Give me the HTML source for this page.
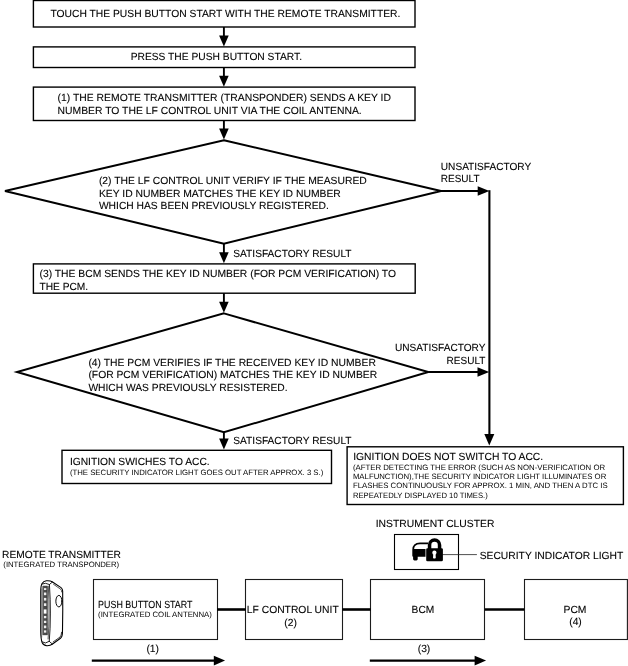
<!DOCTYPE html>
<html><head><meta charset="utf-8"><title>Flow</title>
<style>html,body{margin:0;padding:0;background:#fff}svg{display:block;filter:grayscale(1);will-change:transform}text{font-family:"Liberation Sans",sans-serif;fill:#000;stroke:#000;stroke-width:0.1px;text-rendering:geometricPrecision}text.s{stroke:none}</style></head>
<body>
<svg width="628" height="666" viewBox="0 0 628 666">
<rect width="628" height="666" fill="#fff"/>
<rect x="33.4" y="0.5" width="381.6" height="26.5" fill="none" stroke="#000" stroke-width="1.4"/>
<rect x="33.4" y="46.9" width="381.6" height="20.6" fill="none" stroke="#000" stroke-width="1.4"/>
<rect x="33.4" y="87.1" width="381.6" height="33.4" fill="none" stroke="#000" stroke-width="1.4"/>
<rect x="33.4" y="263.9" width="381.8" height="29.3" fill="none" stroke="#000" stroke-width="1.4"/>
<rect x="62" y="450.3" width="269.5" height="33.2" fill="none" stroke="#000" stroke-width="1.4"/>
<rect x="347.1" y="446.8" width="276.3" height="57.7" fill="none" stroke="#000" stroke-width="1.4"/>
<rect x="394.5" y="534.5" width="64.0" height="35.0" fill="none" stroke="#000" stroke-width="1.1"/>
<rect x="93.5" y="579.5" width="124.0" height="60.0" fill="none" stroke="#1c1c1c" stroke-width="1.1"/>
<rect x="245.5" y="579.5" width="97.0" height="60.0" fill="none" stroke="#1c1c1c" stroke-width="1.1"/>
<rect x="370.5" y="579.5" width="114.0" height="60.0" fill="none" stroke="#1c1c1c" stroke-width="1.1"/>
<rect x="524.5" y="579.5" width="102.9" height="60.0" fill="none" stroke="#1c1c1c" stroke-width="1.1"/>
<polygon points="223.9,140.2 441,191 223.9,243.6 5,191" fill="none" stroke="#000" stroke-width="2" stroke-linejoin="miter"/>
<polygon points="223.9,313.4 428.3,372 223.9,432.3 17,372" fill="none" stroke="#000" stroke-width="2" stroke-linejoin="miter"/>
<line x1="223.9" y1="27" x2="223.9" y2="40" stroke="#000" stroke-width="1.9"/>
<polygon points="219.10,35.50 228.70,35.50 223.9,46.50" fill="#000"/>
<line x1="223.9" y1="67.5" x2="223.9" y2="80" stroke="#000" stroke-width="1.9"/>
<polygon points="219.10,75.70 228.70,75.70 223.9,86.70" fill="#000"/>
<line x1="223.9" y1="120.5" x2="223.9" y2="130" stroke="#000" stroke-width="1.9"/>
<polygon points="219.10,128.60 228.70,128.60 223.9,139.60" fill="#000"/>
<line x1="223.9" y1="244" x2="223.9" y2="255" stroke="#000" stroke-width="1.9"/>
<polygon points="219.10,252.20 228.70,252.20 223.9,263.20" fill="#000"/>
<line x1="223.9" y1="293.2" x2="223.9" y2="303" stroke="#000" stroke-width="1.9"/>
<polygon points="219.10,301.80 228.70,301.80 223.9,312.80" fill="#000"/>
<line x1="223.9" y1="432.5" x2="223.9" y2="440" stroke="#000" stroke-width="1.9"/>
<polygon points="219.10,438.60 228.70,438.60 223.9,449.60" fill="#000"/>
<line x1="441" y1="191" x2="480" y2="191" stroke="#000" stroke-width="1.9"/>
<polygon points="477.7,186.25 477.7,195.75 489.4,191" fill="#000"/>
<line x1="489.4" y1="190.2" x2="489.4" y2="436" stroke="#000" stroke-width="2.1"/>
<polygon points="484.30,434.10 494.30,434.10 489.3,445.60" fill="#000"/>
<line x1="428.5" y1="372" x2="480" y2="372" stroke="#000" stroke-width="1.9"/>
<polygon points="477.5,367.25 477.5,376.75 489.2,372" fill="#000"/>
<line x1="217" y1="609.5" x2="245.8" y2="609.5" stroke="#000" stroke-width="2.6"/>
<line x1="342.3" y1="609.5" x2="370.8" y2="609.5" stroke="#000" stroke-width="2.6"/>
<line x1="484.8" y1="609.5" x2="524.3" y2="609.5" stroke="#000" stroke-width="2.6"/>
<line x1="91.8" y1="660.6" x2="215" y2="660.6" stroke="#000" stroke-width="2.2"/>
<polygon points="213.79999999999998,655.7 213.79999999999998,665.5 225.1,660.6" fill="#000"/>
<line x1="369.8" y1="660.6" x2="476" y2="660.6" stroke="#000" stroke-width="2.2"/>
<polygon points="474.6,655.7 474.6,665.5 486.1,660.6" fill="#000"/>
<line x1="441" y1="554.6" x2="476.9" y2="554.6" stroke="#222" stroke-width="0.8"/>

<g id="icon">
<path fill-rule="evenodd" fill="#000" d="M412.3,550 Q412.3,542.5 420,542.5 L428,542.5 L428,549 L425.5,549 L425.5,556.8 L417.7,556.8 L417.7,559.1 Q417.7,560.4 416.4,560.4 L414.4,560.4 Q413.1,560.4 413.1,559.1 L413.1,556.8 Q412.3,556.5 412.3,555.4 Z M414.1,548.9 Q414.4,544.3 420,544.3 L428,544.3 L428,548.9 Z"/>
<path d="M429.55,550 L429.55,545.1 A5.0,5.0 0 0 1 439.55,545.1 L439.55,550" fill="none" stroke="#000" stroke-width="3.5"/>
<rect x="426.2" y="548.3" width="16.7" height="12.9" rx="1.3" fill="#000"/>
<circle cx="434.4" cy="552.7" r="2.15" fill="#fff"/>
<path d="M433.3,553.5 L435.5,553.5 L435.8,557.5 Q435.8,558.4 434.9,558.4 L433.9,558.4 Q433,558.4 433,557.5 Z" fill="#fff"/>
</g>


<g id="remote" transform="translate(51.7 613.25) scale(0.945 0.96) translate(-51.7 -613.2)" fill="none" stroke="#000" stroke-width="0.9" stroke-linejoin="round" stroke-linecap="round">
<path d="M40.1,591 Q40.1,584.5 41.5,582.2 Q43,579.9 46,579.4 Q50,579 52.6,580.7 L61.6,586.5 Q63.3,587.8 63.3,590 L63.4,610 L63.1,633 Q63.1,637.5 61,639.3 L52.6,645.3 Q50,647.2 46.5,647 Q43,646.7 41.5,643.6 Q40.2,640 40.1,632 Z" fill="#fff" stroke-width="1.15"/>
<path d="M41.8,582.6 Q45,581 49.3,583.3 Q50.4,600 50.3,613 Q50.3,630 49.1,642.4 Q45,645.6 41.8,643.2"/>
<path d="M49.3,583.3 Q51,581.5 52.6,580.7"/>
<path d="M49.1,642.4 Q51,644.5 52.6,645.3"/>
<path d="M53.6,583 L61.2,588.2 Q62.2,589 62.3,591" stroke-width="0.7"/>
<path d="M53.2,643.1 L60.5,638 Q62,636.6 62.2,633" stroke-width="0.8"/>
<path d="M48.1,585 Q49,600 48.9,613 Q48.9,628 47.9,640" stroke-width="0.7"/>
<path d="M41.2,588 L41.2,638" stroke-width="0.4"/>
<rect x="42.6" y="585" width="4.5" height="50.6" fill="#4a4a4a" stroke="#111" stroke-width="0.6"/>
<ellipse cx="59.3" cy="600.6" rx="3.2" ry="6" stroke-width="1"/>
</g>
<g transform="translate(51.7 613.25) scale(0.945 0.96) translate(-51.7 -613.2)" fill="#eee" stroke="none">
<rect x="43.5" y="587" width="2.5" height="2"/>
<rect x="43.5" y="591.6" width="2.5" height="2.8"/>
<rect x="43.5" y="597.2" width="2.5" height="2.8"/>
<rect x="43.5" y="602.8" width="2.5" height="2.8"/>
<rect x="43.3" y="609.2" width="2.9" height="4.4" fill="#fff"/>
<rect x="43.5" y="616" width="2.5" height="2.4"/>
<rect x="43.5" y="621" width="2.5" height="2.4"/>
<rect x="43.5" y="626" width="2.5" height="2.8"/>
<rect x="43.5" y="631" width="2.5" height="2.4"/>
</g>

<text x="50.4" y="17.3" font-size="10.3" textLength="350.0" lengthAdjust="spacingAndGlyphs">TOUCH THE PUSH BUTTON START WITH THE REMOTE TRANSMITTER.</text>
<text x="130.7" y="60.4" font-size="10.3" textLength="171.3" lengthAdjust="spacingAndGlyphs">PRESS THE PUSH BUTTON START.</text>
<text x="57.6" y="100.9" font-size="10.3" textLength="333.4" lengthAdjust="spacingAndGlyphs">(1) THE REMOTE TRANSMITTER (TRANSPONDER) SENDS A KEY ID</text>
<text x="57.6" y="113.6" font-size="10.3" textLength="304.1" lengthAdjust="spacingAndGlyphs">NUMBER TO THE LF CONTROL UNIT VIA THE COIL ANTENNA.</text>
<text x="98.9" y="184.2" font-size="10.3" textLength="267.9" lengthAdjust="spacingAndGlyphs">(2) THE LF CONTROL UNIT VERIFY IF THE MEASURED</text>
<text x="98.9" y="196.7" font-size="10.3" textLength="241.9" lengthAdjust="spacingAndGlyphs">KEY ID NUMBER MATCHES THE KEY ID NUMBER</text>
<text x="98.9" y="209.2" font-size="10.3" textLength="229.9" lengthAdjust="spacingAndGlyphs">WHICH HAS BEEN PREVIOUSLY REGISTERED.</text>
<text x="440.8" y="170" font-size="10.3" textLength="90.4" lengthAdjust="spacingAndGlyphs">UNSATISFACTORY</text>
<text x="440.8" y="182.3" font-size="10.3" textLength="38.7" lengthAdjust="spacingAndGlyphs">RESULT</text>
<text x="233.3" y="257" font-size="10.3" textLength="118.2" lengthAdjust="spacingAndGlyphs">SATISFACTORY RESULT</text>
<text x="39.5" y="277.1" font-size="10.3" textLength="356.5" lengthAdjust="spacingAndGlyphs">(3) THE BCM SENDS THE KEY ID NUMBER (FOR PCM VERIFICATION) TO</text>
<text x="39.5" y="289.6" font-size="10.3" textLength="48.7" lengthAdjust="spacingAndGlyphs">THE PCM.</text>
<text x="88.4" y="365.7" font-size="10.3" textLength="287.5" lengthAdjust="spacingAndGlyphs">(4) THE PCM VERIFIES IF THE RECEIVED KEY ID NUMBER</text>
<text x="88.4" y="378.4" font-size="10.3" textLength="288.8" lengthAdjust="spacingAndGlyphs">(FOR PCM VERIFICATION) MATCHES THE KEY ID NUMBER</text>
<text x="88.4" y="390.6" font-size="10.3" textLength="199.2" lengthAdjust="spacingAndGlyphs">WHICH WAS PREVIOUSLY RESISTERED.</text>
<text x="395" y="351.1" font-size="10.3" textLength="90.4" lengthAdjust="spacingAndGlyphs">UNSATISFACTORY</text>
<text x="446.6" y="363.6" font-size="10.3" textLength="38.8" lengthAdjust="spacingAndGlyphs">RESULT</text>
<text x="233.3" y="443.7" font-size="10.3" textLength="118.2" lengthAdjust="spacingAndGlyphs">SATISFACTORY RESULT</text>
<text x="69.9" y="465.2" font-size="10.3" textLength="139.8" lengthAdjust="spacingAndGlyphs">IGNITION SWICHES TO ACC.</text>
<text x="69.9" y="474.6" font-size="7.78" class="s" textLength="253.4" lengthAdjust="spacingAndGlyphs">(THE SECURITY INDICATOR LIGHT GOES OUT AFTER APPROX. 3 S.)</text>
<text x="353.2" y="460.1" font-size="10.3" textLength="190.0" lengthAdjust="spacingAndGlyphs">IGNITION DOES NOT SWITCH TO ACC.</text>
<text x="352.9" y="469.7" font-size="7.78" class="s" textLength="252.2" lengthAdjust="spacingAndGlyphs">(AFTER DETECTING THE ERROR (SUCH AS NON-VERIFICATION OR</text>
<text x="352.9" y="478.9" font-size="7.78" class="s" textLength="253.4" lengthAdjust="spacingAndGlyphs">MALFUNCTION),THE SECURITY INDICATOR LIGHT ILLUMINATES OR</text>
<text x="352.9" y="488.3" font-size="7.78" class="s" textLength="254.7" lengthAdjust="spacingAndGlyphs">FLASHES CONTINUOUSLY FOR APPROX. 1 MIN, AND THEN A DTC IS</text>
<text x="352.9" y="497.5" font-size="7.78" class="s" textLength="134.9" lengthAdjust="spacingAndGlyphs">REPEATEDLY DISPLAYED 10 TIMES.)</text>
<text x="375.7" y="527.3" font-size="10.3" textLength="118.7" lengthAdjust="spacingAndGlyphs">INSTRUMENT CLUSTER</text>
<text x="479.7" y="559" font-size="10.3" textLength="143.6" lengthAdjust="spacingAndGlyphs">SECURITY INDICATOR LIGHT</text>
<text x="2" y="557.7" font-size="10.3" textLength="119.0" lengthAdjust="spacingAndGlyphs">REMOTE TRANSMITTER</text>
<text x="3.3" y="566.6" font-size="7.78" class="s" textLength="115.9" lengthAdjust="spacingAndGlyphs">(INTEGRATED TRANSPONDER)</text>
<text x="98.1" y="607.6" font-size="10.3" textLength="94.4" lengthAdjust="spacingAndGlyphs">PUSH BUTTON START</text>
<text x="98.1" y="617.3" font-size="7.78" class="s" textLength="113.8" lengthAdjust="spacingAndGlyphs">(INTEGRATED COIL ANTENNA)</text>
<text x="246.8" y="613" font-size="10.3" textLength="91.9" lengthAdjust="spacingAndGlyphs">LF CONTROL UNIT</text>
<text x="290.6" y="625.7" font-size="10.3" text-anchor="middle">(2)</text>
<text x="411.6" y="613" font-size="10.3" textLength="22.7" lengthAdjust="spacingAndGlyphs">BCM</text>
<text x="563.5" y="613" font-size="10.3" textLength="23.0" lengthAdjust="spacingAndGlyphs">PCM</text>
<text x="575.5" y="624.9" font-size="10.3" text-anchor="middle">(4)</text>
<text x="152.7" y="652.2" font-size="10.3" text-anchor="middle">(1)</text>
<text x="424" y="652.2" font-size="10.3" text-anchor="middle">(3)</text>
</svg>
</body></html>
